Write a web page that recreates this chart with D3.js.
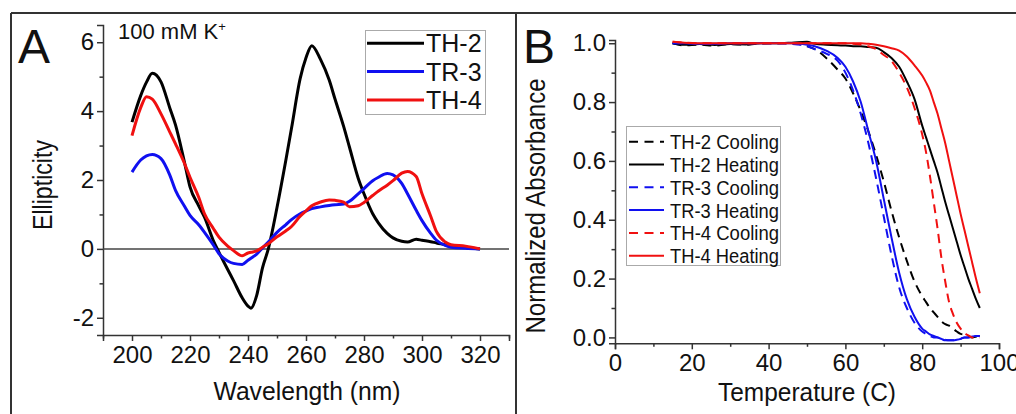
<!DOCTYPE html>
<meta charset="utf-8">
<script src="https://d3js.org/d3.v7.min.js"></script>
<style>
  body { margin: 0; background: #fff; }
  text { font-family: "Liberation Sans", Arial, sans-serif; fill: #111; }
</style>
<div id="chart"></div>
<script>

// ---- panel A data: CD spectra (wavelength nm, ellipticity) ----
const wavelengths = [200, 203, 205, 207, 210, 213, 215, 218, 220, 223, 225, 228, 230, 233, 235, 238, 240, 241, 243, 245, 247, 250, 253, 255, 258, 260, 262, 265, 268, 270, 273, 275, 278, 280, 283, 285, 288, 290, 293, 295, 298, 300, 303, 305, 308, 310, 315, 320];
const th2CD = [3.68, 4.45, 4.84, 5.1, 4.85, 4.1, 3.6, 2.55, 1.8, 1.25, 0.92, 0.25, -0.1, -0.6, -0.92, -1.42, -1.66, -1.72, -1.35, -0.55, 0.0, 1.2, 2.55, 3.5, 4.95, 5.55, 5.9, 5.5, 4.9, 4.35, 3.55, 2.95, 2.05, 1.6, 1.02, 0.75, 0.45, 0.32, 0.22, 0.2, 0.28, 0.25, 0.21, 0.17, 0.12, 0.08, 0.04, 0.0];
const tr3CD = [2.23, 2.58, 2.7, 2.74, 2.62, 2.15, 1.7, 1.25, 0.97, 0.7, 0.48, 0.12, -0.14, -0.35, -0.42, -0.45, -0.33, -0.27, -0.15, 0.03, 0.2, 0.48, 0.7, 0.85, 1.02, 1.1, 1.17, 1.22, 1.26, 1.28, 1.3, 1.38, 1.6, 1.75, 1.98, 2.08, 2.19, 2.15, 1.9, 1.6, 1.12, 0.82, 0.45, 0.25, 0.1, 0.05, 0.02, 0.0];
const th4CD = [3.29, 4.1, 4.42, 4.35, 3.92, 3.4, 3.05, 2.5, 2.08, 1.5, 1.02, 0.6, 0.34, 0.08, -0.05, -0.2, -0.12, -0.1, -0.06, 0.05, 0.15, 0.35, 0.52, 0.65, 0.95, 1.1, 1.25, 1.36, 1.42, 1.41, 1.36, 1.22, 1.25, 1.35, 1.55, 1.68, 1.85, 1.98, 2.2, 2.25, 2.1, 1.6, 0.95, 0.5, 0.2, 0.12, 0.08, 0.0];

// ---- panel B data: melting curves (temperature C, normalized absorbance) ----
const temps = [15, 18, 22, 26, 30, 34, 38, 42, 46, 50, 52, 55, 58, 60, 62, 64, 66, 68, 70, 72, 74, 76, 78, 80, 81, 82, 83, 84, 85, 86, 87, 88, 89, 90, 91, 92, 93, 94, 95];
const th2Cool = [1.0, 0.993, 0.995, 0.992, 0.997, 0.995, 0.999, 1.0, 1.0, 0.99, 0.98, 0.95, 0.91, 0.88, 0.83, 0.77, 0.70, 0.62, 0.53, 0.43, 0.34, 0.26, 0.19, 0.14, 0.12, 0.10, 0.085, 0.07, 0.055, 0.045, 0.04, 0.03, 0.02, 0.012, 0.01, 0.005, 0.0, 0.002, 0.0];
const th2Heat = [1.0, 0.995, 0.997, 0.994, 0.997, 0.996, 1.0, 1.0, 1.002, 1.005, 0.998, 0.995, 0.993, 0.992, 0.99, 0.99, 0.987, 0.985, 0.97, 0.95, 0.92, 0.87, 0.81, 0.72, 0.68, 0.64, 0.60, 0.56, 0.51, 0.46, 0.415, 0.37, 0.325, 0.28, 0.24, 0.20, 0.165, 0.13, 0.10];
const tr3Cool = [1.0, 1.0, 0.998, 0.998, 1.0, 1.0, 1.0, 1.0, 0.998, 0.99, 0.98, 0.965, 0.94, 0.90, 0.84, 0.76, 0.66, 0.54, 0.41, 0.28, 0.17, 0.10, 0.05, 0.02, 0.012, 0.005, 0.0, 0.0, -0.005, -0.008, -0.01, -0.01, -0.008, -0.005, 0.0, 0.0, 0.003, 0.005, 0.005];
const tr3Heat = [1.0, 1.0, 0.998, 0.998, 1.0, 1.0, 1.0, 1.0, 1.0, 0.995, 0.99, 0.975, 0.95, 0.92, 0.87, 0.80, 0.70, 0.60, 0.47, 0.34, 0.22, 0.13, 0.07, 0.03, 0.02, 0.01, 0.005, 0.0, -0.005, -0.01, -0.01, -0.01, -0.008, -0.005, 0.0, 0.0, 0.003, 0.005, 0.005];
const th4Cool = [1.005, 1.002, 1.0, 1.0, 1.0, 1.0, 1.0, 1.0, 1.0, 1.0, 1.0, 1.0, 1.0, 1.0, 0.998, 0.996, 0.99, 0.98, 0.96, 0.94, 0.90, 0.85, 0.78, 0.69, 0.63, 0.55, 0.46, 0.37, 0.27, 0.19, 0.12, 0.08, 0.05, 0.03, 0.015, 0.007, 0.0, 0.0, 0.0];
const th4Heat = [1.005, 1.002, 1.0, 1.0, 1.0, 1.0, 1.0, 1.0, 1.0, 1.0, 1.0, 1.0, 1.0, 1.0, 1.0, 1.0, 0.998, 0.995, 0.99, 0.983, 0.975, 0.955, 0.925, 0.89, 0.867, 0.84, 0.80, 0.76, 0.71, 0.66, 0.60, 0.54, 0.48, 0.42, 0.365, 0.31, 0.255, 0.20, 0.15];

const cdTicksX = [200, 220, 240, 260, 280, 300, 320];
const cdTicksY = [-2, 0, 2, 4, 6];
const meltTicksX = [0, 20, 40, 60, 80, 100];
const meltTicksY = [0.0, 0.2, 0.4, 0.6, 0.8, 1.0];

const W = 1016, H = 414;
const svg = d3.select("#chart").append("svg")
  .attr("width", W).attr("height", H);
svg.append("rect").attr("width", W).attr("height", H).attr("fill", "#fff");

// outer frame of the figure
const frame = "#333";
svg.append("line").attr("x1", 11).attr("x2", W).attr("y1", 13).attr("y2", 13)
  .attr("stroke", frame).attr("stroke-width", 2);
svg.append("line").attr("x1", 11).attr("x2", 11).attr("y1", 13).attr("y2", H)
  .attr("stroke", frame).attr("stroke-width", 2);
svg.append("line").attr("x1", 516).attr("x2", 516).attr("y1", 13).attr("y2", H)
  .attr("stroke", frame).attr("stroke-width", 2);

// helper: draw axes with origin-style outward ticks
function drawAxes(g, x, y, xTicks, yTicks, xMinor, yMinor, yFmt) {
  const axisCol = "#333";
  const xa = d3.axisBottom(x).tickValues(xTicks).tickSize(6).tickPadding(5);
  const ya = d3.axisLeft(y).tickValues(yTicks).tickSize(6).tickPadding(3).tickFormat(yFmt);
  const gx = g.append("g").attr("transform", `translate(0,${y.range()[0]})`).call(xa);
  const gy = g.append("g").attr("transform", `translate(${x.range()[0]},0)`).call(ya);
  // minor ticks
  g.append("g").attr("transform", `translate(0,${y.range()[0]})`)
    .call(d3.axisBottom(x).tickValues(xMinor).tickSize(3.5).tickFormat(""))
    .call(a => a.select(".domain").remove());
  g.append("g").attr("transform", `translate(${x.range()[0]},0)`)
    .call(d3.axisLeft(y).tickValues(yMinor).tickSize(3.5).tickFormat(""))
    .call(a => a.select(".domain").remove());
  g.selectAll(".domain, .tick line").attr("stroke", axisCol).attr("stroke-width", 1.5);
  [gx, gy].forEach(a => a.selectAll("text")
    .style("font-family", "'Liberation Sans', Arial, sans-serif")
    .style("font-size", "24px").attr("fill", "#111"));
  return { gx, gy };
}

// ================= Panel A =================
const gA = svg.append("g");
const xA = d3.scaleLinear().domain([190, 330]).range([103, 509]);
const yA = d3.scaleLinear().domain([-2.5, 6.5]).range([335, 25]);

drawAxes(gA, xA, yA, cdTicksX, cdTicksY,
  d3.range(190, 331, 20), [-1, 1, 3, 5], d => String(d));

// zero line
gA.append("line").attr("x1", xA(190)).attr("x2", xA(330))
  .attr("y1", yA(0)).attr("y2", yA(0))
  .attr("stroke", "#444").attr("stroke-width", 1.5);

const cdSeries = [
  { name: "TH-2", vals: th2CD, color: "#000000" },
  { name: "TR-3", vals: tr3CD, color: "#1010f0" },
  { name: "TH-4", vals: th4CD, color: "#f01010" }
];
const lineA = d3.line().x(d => xA(d[0])).y(d => yA(d[1])).curve(d3.curveMonotoneX);
cdSeries.forEach(s => {
  gA.append("path")
    .datum(wavelengths.map((w, i) => [w, s.vals[i]]))
    .attr("d", lineA)
    .attr("fill", "none")
    .attr("stroke", s.color)
    .attr("stroke-width", 3)
    .attr("stroke-linejoin", "round");
});

// legend A
gA.append("rect").attr("x", 365.5).attr("y", 30.5).attr("width", 120).attr("height", 84)
  .attr("fill", "#fff").attr("stroke", "#aaa").attr("stroke-width", 1);
cdSeries.forEach((s, i) => {
  const ly = 43.3 + i * 28.3;
  gA.append("line").attr("x1", 367).attr("x2", 424).attr("y1", ly).attr("y2", ly)
    .attr("stroke", s.color).attr("stroke-width", 3);
  gA.append("text").attr("x", 426).attr("y", ly + 9)
    .style("font-size", "25px").text(s.name);
});

// titles A
gA.append("text").attr("x", 18).attr("y", 63).style("font-size", "48px").text("A");
const kt = gA.append("text").attr("x", 118).attr("y", 39).style("font-size", "22px");
kt.append("tspan").text("100 mM K");
kt.append("tspan").attr("dy", -8).style("font-size", "13px").text("+");
gA.append("text").attr("x", 307).attr("y", 400).attr("text-anchor", "middle")
  .style("font-size", "26px").attr("textLength", 187).attr("lengthAdjust", "spacingAndGlyphs")
  .text("Wavelength (nm)");
gA.append("text").attr("transform", "translate(52,185) rotate(-90)")
  .attr("text-anchor", "middle").style("font-size", "27px")
  .attr("textLength", 90).attr("lengthAdjust", "spacingAndGlyphs")
  .text("Ellipticity");

// ================= Panel B =================
const gB = svg.append("g");
const xB = d3.scaleLinear().domain([0, 100]).range([615, 999]);
const yB = d3.scaleLinear().domain([-0.02, 1.011]).range([343.3, 40]);

drawAxes(gB, xB, yB, meltTicksX, meltTicksY,
  [10, 30, 50, 70, 90], [0.1, 0.3, 0.5, 0.7, 0.9], d => d.toFixed(1));

const meltSeries = [
  { name: "TH-2 Cooling", vals: th2Cool, color: "#000000", dash: "9,6" },
  { name: "TH-2 Heating", vals: th2Heat, color: "#000000", dash: null },
  { name: "TR-3 Cooling", vals: tr3Cool, color: "#1010f0", dash: "9,6" },
  { name: "TR-3 Heating", vals: tr3Heat, color: "#1010f0", dash: null },
  { name: "TH-4 Cooling", vals: th4Cool, color: "#f01010", dash: "9,6" },
  { name: "TH-4 Heating", vals: th4Heat, color: "#f01010", dash: null }
];
const lineB = d3.line().x(d => xB(d[0])).y(d => yB(d[1])).curve(d3.curveMonotoneX);
meltSeries.forEach(s => {
  gB.append("path")
    .datum(temps.map((t, i) => [t, s.vals[i]]))
    .attr("d", lineB)
    .attr("fill", "none")
    .attr("stroke", s.color)
    .attr("stroke-width", 2)
    .attr("stroke-dasharray", s.dash);
});

// legend B
gB.append("rect").attr("x", 626.5).attr("y", 126.5).attr("width", 154).attr("height", 139)
  .attr("fill", "#fff").attr("stroke", "#aaa").attr("stroke-width", 1);
meltSeries.forEach((s, i) => {
  const ly = 141.7 + i * 22.8;
  gB.append("line").attr("x1", 629).attr("x2", 664).attr("y1", ly).attr("y2", ly)
    .attr("stroke", s.color).attr("stroke-width", 2)
    .attr("stroke-dasharray", s.dash ? "9,6.5" : null);
  gB.append("text").attr("x", 670).attr("y", ly + 7.5)
    .style("font-size", "20px").attr("textLength", 109).attr("lengthAdjust", "spacingAndGlyphs")
    .text(s.name);
});

// titles B
gB.append("text").attr("x", 523).attr("y", 63).style("font-size", "48px").text("B");
gB.append("text").attr("x", 807).attr("y", 401).attr("text-anchor", "middle")
  .style("font-size", "26px").attr("textLength", 178).attr("lengthAdjust", "spacingAndGlyphs")
  .text("Temperature (C)");
gB.append("text").attr("transform", "translate(545,206) rotate(-90)")
  .attr("text-anchor", "middle").style("font-size", "27px")
  .attr("textLength", 255).attr("lengthAdjust", "spacingAndGlyphs")
  .text("Normalized Absorbance");

</script>
